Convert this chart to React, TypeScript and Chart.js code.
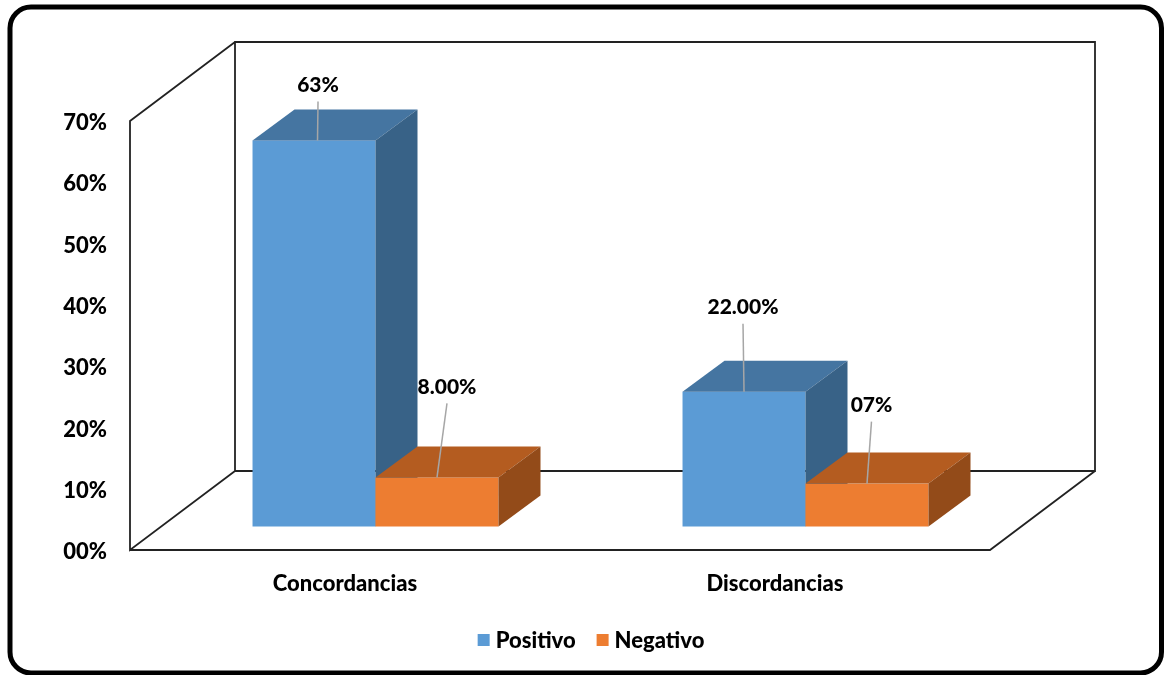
import React, { useEffect, useRef } from 'react';
import { Chart, registerables } from 'chart.js';

Chart.register(...registerables);

// ---- data ----
const categories = ['Concordancias', 'Discordancias'];
const positivo = [0.63, 0.22];
const negativo = [0.08, 0.07];
// number formats used by each data label (Excel-style codes)
const positivoFormats = ['0%', '0.00%'];
const negativoFormats = ['0.00%', '00%'];
const axisFormat = '00%';
const axisMax = 0.7;
const axisStep = 0.1;

// ---- styling / layout ----
const FONT = 'Lato, "Open Sans", sans-serif';
const WEIGHT = '900';
const COLORS = {
  positivo: { front: '#5B9BD5', top: '#4575A1', side: '#386287' },
  negativo: { front: '#ED7D31', top: '#B45C20', side: '#934B19' },
};
const WALL_DEPTH = { x: 105, y: -79 }; // back wall offset from the front plane
const BAR_SHIFT = { x: 30.5, y: -23.5 }; // bar front face offset into the floor
const BAR_DEPTH = { x: 42, y: -31 }; // bar thickness in depth
// data label placement relative to the bar's front-top edge centre
const LABEL_OFFSETS = [
  [{ dx: 4, dy: -56, tip: 3.5 }, { dx: 10, dy: -91, tip: 0 }],
  [{ dx: -1, dy: -85, tip: 0 }, { dx: 4.5, dy: -79, tip: 0 }],
];

function formatPercent(v: number, fmt: string): string {
  const body = fmt.replace('%', '');
  const [intPart, decPart = ''] = body.split('.');
  const s = (v * 100).toFixed(decPart.length);
  const [i, d] = s.split('.');
  return i.padStart(intPart.length, '0') + (d ? '.' + d : '') + '%';
}

const scene3d = {
  id: 'scene3d',
  beforeDatasetsDraw(chart: any) {
    const { ctx, chartArea } = chart;
    const { left: L, right: R, top: T, bottom: B } = chartArea;
    const dx = WALL_DEPTH.x;
    const dy = WALL_DEPTH.y;

    // walls and floor outline
    ctx.save();
    ctx.strokeStyle = '#222';
    ctx.lineWidth = 1.8;
    ctx.lineJoin = 'miter';
    ctx.beginPath();
    // back wall
    ctx.rect(L + dx, T + dy, R - L, B - T);
    // side wall
    ctx.moveTo(L + dx, T + dy);
    ctx.lineTo(L, T);
    ctx.lineTo(L, B);
    ctx.lineTo(L + dx, B + dy);
    // floor
    ctx.moveTo(L, B);
    ctx.lineTo(R, B);
    ctx.lineTo(R + dx, B + dy);
    ctx.stroke();
    ctx.restore();

    const palettes = [COLORS.positivo, COLORS.negativo];
    const formats = [positivoFormats, negativoFormats];
    const count = chart.data.labels.length;
    const labels: any[] = [];

    for (let i = 0; i < count; i++) {
      chart.data.datasets.forEach((ds: any, di: number) => {
        const meta = chart.getDatasetMeta(di);
        const el = meta.data[i];
        if (!el) return;
        const { x, y, base, width } = el.getProps(['x', 'y', 'base', 'width'], true);
        const pal = palettes[di];
        const x0 = x - width / 2 + BAR_SHIFT.x;
        const x1 = x + width / 2 + BAR_SHIFT.x;
        const yt = y + BAR_SHIFT.y;
        const yb = base + BAR_SHIFT.y;
        const bx = BAR_DEPTH.x;
        const by = BAR_DEPTH.y;

        ctx.save();
        // front face
        ctx.fillStyle = pal.front;
        ctx.fillRect(x0, yt, x1 - x0, yb - yt);
        // top face
        ctx.fillStyle = pal.top;
        ctx.beginPath();
        ctx.moveTo(x0, yt);
        ctx.lineTo(x1, yt);
        ctx.lineTo(x1 + bx, yt + by);
        ctx.lineTo(x0 + bx, yt + by);
        ctx.closePath();
        ctx.fill();
        // side face
        ctx.fillStyle = pal.side;
        ctx.beginPath();
        ctx.moveTo(x1, yt);
        ctx.lineTo(x1 + bx, yt + by);
        ctx.lineTo(x1 + bx, yb + by);
        ctx.lineTo(x1, yb);
        ctx.closePath();
        ctx.fill();
        ctx.restore();

        const off = LABEL_OFFSETS[i][di];
        const cx = (x0 + x1) / 2;
        labels.push({
          text: formatPercent(ds.data[i], formats[di][i]),
          lx: cx + off.dx,
          ly: yt + off.dy,
          tx: cx + off.tip,
          ty: yt,
        });
      });
    }

    // data labels with leader lines
    ctx.save();
    ctx.strokeStyle = '#A6A6A6';
    ctx.lineWidth = 1.5;
    labels.forEach((lb) => {
      ctx.beginPath();
      ctx.moveTo(lb.lx, lb.ly + 17);
      ctx.lineTo(lb.tx, lb.ty);
      ctx.stroke();
    });
    ctx.fillStyle = '#000';
    ctx.font = `${WEIGHT} 21px ${FONT}`;
    ctx.textAlign = 'center';
    ctx.textBaseline = 'middle';
    labels.forEach((lb) => ctx.fillText(lb.text, lb.lx, lb.ly + 1));
    ctx.restore();

    return false; // the flat default bars are replaced by the 3D ones
  },
  afterDraw(chart: any) {
    const { ctx } = chart;
    // legend
    ctx.save();
    ctx.font = `${WEIGHT} 22px ${FONT}`;
    ctx.textBaseline = 'middle';
    ctx.textAlign = 'left';
    const items = chart.data.datasets.map((ds: any) => ({
      text: ds.label,
      color: ds.backgroundColor,
    }));
    const box = 12;
    const gapBoxText = 6;
    const gapItems = 21;
    const widths = items.map((it: any) => box + gapBoxText + ctx.measureText(it.text).width);
    const total = widths.reduce((a: number, b: number) => a + b, 0) + gapItems * (items.length - 1);
    let xx = 591 - total / 2;
    const yy = 640;
    items.forEach((it: any, k: number) => {
      ctx.fillStyle = it.color;
      ctx.fillRect(xx, yy - box / 2, box, box);
      ctx.fillStyle = '#000';
      ctx.fillText(it.text, xx + box + gapBoxText, yy + 1);
      xx += widths[k] + gapItems;
    });
    ctx.restore();

    // rounded outer frame
    ctx.save();
    ctx.strokeStyle = '#000';
    ctx.lineWidth = 5;
    ctx.beginPath();
    ctx.roundRect(10, 7, 1151.5, 666, 21);
    ctx.stroke();
    ctx.restore();
  },
};

export default function App() {
  const canvasRef = useRef<HTMLCanvasElement | null>(null);

  useEffect(() => {
    const canvas = canvasRef.current;
    if (!canvas) return;
    const tickFont = { family: FONT, size: 22, weight: WEIGHT };
    const chart = new Chart(canvas, {
      type: 'bar',
      data: {
        labels: categories,
        datasets: [
          { label: 'Positivo', data: positivo, backgroundColor: COLORS.positivo.front },
          { label: 'Negativo', data: negativo, backgroundColor: COLORS.negativo.front },
        ],
      },
      options: {
        responsive: false,
        animation: false,
        events: [],
        categoryPercentage: 0.572,
        barPercentage: 1,
        layout: { padding: { left: 0, top: 121, right: 175, bottom: 0 } },
        plugins: {
          legend: { display: false },
          tooltip: { enabled: false },
        },
        scales: {
          x: {
            grid: { display: false, drawTicks: false },
            border: { display: false },
            ticks: { font: tickFont, color: '#000', padding: 21, maxRotation: 0 },
            afterFit: (s: any) => {
              s.height = 125;
            },
          },
          y: {
            min: 0,
            max: axisMax,
            grid: { display: false, drawTicks: false },
            border: { display: false },
            ticks: {
              stepSize: axisStep,
              font: tickFont,
              color: '#000',
              padding: 23,
              labelOffset: 2,
              callback: (v: any) => formatPercent(Number(v), axisFormat),
            },
            afterFit: (s: any) => {
              s.width = 130;
            },
          },
        },
      } as any,
      plugins: [scene3d],
    });
    return () => chart.destroy();
  }, []);

  return (
    <div style={{ position: 'fixed', left: 0, top: 0, width: 1165, height: 675, background: '#fff' }}>
      <canvas ref={canvasRef} width={1165} height={675} style={{ display: 'block' }} />
    </div>
  );
}
